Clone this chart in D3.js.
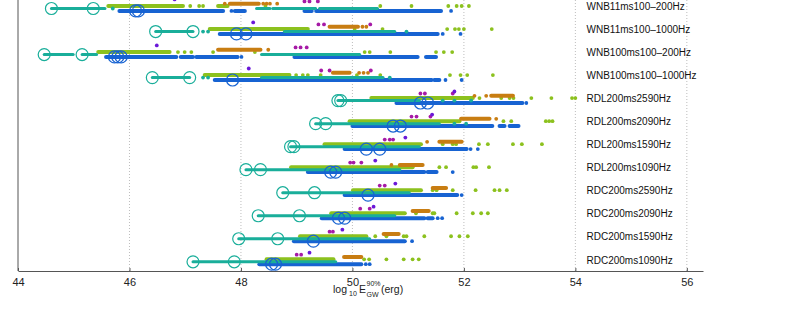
<!DOCTYPE html>
<html lang="en">
<head>
<meta charset="UTF-8">
<title>log10 E_GW 90% per waveform</title>
<script src="https://d3js.org/d3.v7.min.js"></script>
<style>
body {
  margin: 0px;
  overflow: hidden;
  background: #fff;
}
text {
  font-family: "Liberation Sans", Arial, Helvetica, sans-serif;
}
.tick text {
  font-size: 11px;
  fill: #222;
}
.row-label {
  font-size: 10px;
  fill: #111;
}
.grid line {
  stroke: #bdbdbd;
  stroke-dasharray: 1,2;
}
</style>
</head>
<body>
<svg width="785" height="309"></svg>
<script>
// waveform rows, top to bottom
const rowLabels = [
  'WNB11ms100\u2013200Hz', 'WNB11ms100\u20131000Hz', 'WNB100ms100\u2013200Hz', 'WNB100ms100\u20131000Hz',
  'RDL200ms2590Hz', 'RDL200ms2090Hz', 'RDL200ms1590Hz', 'RDL200ms1090Hz',
  'RDC200ms2590Hz', 'RDC200ms2090Hz', 'RDC200ms1590Hz', 'RDC200ms1090Hz'
];
const xTicks = [44, 46, 48, 50, 52, 54, 56];

// circled values (log10 erg)
const tealCircles = [[44.60,45.35],[46.47,47.14],[44.47,45.15],[46.41,47.08],[49.74,49.79],[49.34,49.52],
  [48.89,48.95],[48.09,48.35],[48.75,49.32],[48.31,49.05],[47.96,48.66],[47.14,47.88]];
const blueCircles = [[46.11,46.16],[47.92,48.09],[45.73,45.79,45.85],[47.85],[51.22,51.35],[50.73,50.86],
  [50.25,50.49],[49.61,49.70],[50.28],[49.75,49.86],[49.30],[48.55,48.62]];

// dense runs of points [from, to] and single points, per row
const tealRuns = [
  [[44.60,45.56],[48.28,48.52],[48.57,49.34],[49.41,50.45]],
  [[46.47,47.14],[48.78,50.76]],
  [[44.47,44.99],[45.15,45.41],[48.37,50.13]],
  [[46.41,47.08],[48.37,50.55]],
  [[49.74,51.20]], [[49.34,51.56]], [[48.89,51.20]], [[48.09,50.85]],
  [[48.75,51.02]], [[48.31,50.76]], [[47.96,50.31]], [[47.14,49.70]]
];
const tealDots = [[45.70],[47.32,47.41,50.97],[],[47.32,47.41,50.67],[51.62,51.83,52.13],[51.83,52.04],[],[],[],[],[],[]];

const greenRuns = [
  [[45.62,46.96],[47.59,47.76]], [[47.44,49.20]], [[45.44,46.72]], [[47.35,48.87]],
  [[50.34,52.16]], [[49.95,51.92]], [[49.50,51.23]], [[48.90,51.08]],
  [[50.01,51.23]], [[49.62,50.94]], [[49.06,50.25]], [[48.46,49.66]]
];
const greenDots = [
  [47.09,47.25,47.32,48.44,50.50,51.06,51.72,51.87,51.96,52.09],
  [50.04,50.54,51.70,51.84,51.91,52.00,52.50],
  [46.87,46.99,47.11,47.50,48.25,50.22,50.31,50.68,51.50,51.64,51.79],
  [48.99,49.11,49.20,49.43,50.08,50.50,51.75,51.94,52.06,52.52],
  [52.28,52.67,52.82,52.89,53.21,53.57,53.94,54.00],
  [52.71,52.85,53.47,53.53,53.59],
  [51.62,51.80,51.86,52.27,52.43,52.88,53.04,53.40],
  [51.56,51.68,52.17,52.22,52.45],
  [51.44,51.51,51.80,52.21,52.55,52.64,52.77],
  [51.14,51.44,51.47,51.87,52.16,52.31,52.43],
  [50.41,50.61,50.92,50.97,51.29,51.77,51.92,52.07],
  [50.21,50.30,50.61,50.92,51.08,51.19]
];

const orangeRuns = [
  [[47.80,48.32]], [[49.59,50.10]], [[47.59,48.35]], [[49.65,49.95]],
  [[52.49,52.88]], [[51.95,52.46]], [[51.56,51.96]], [[50.85,51.26]],
  [[51.44,51.68]], [[51.08,51.37]], [[50.56,50.83]], [[49.85,50.16]]
];
const orangeDots = [[47.71,48.40,48.46,48.52,48.65],[50.18,50.25],[48.49],[50.12,50.20,50.28],
  [52.19,52.40],[52.58],[51.34],[50.70],[],[],[],[]];

const magentaDots = [[49.14,49.23,49.38],[49.39,49.49,50.32],[48.98,49.07,49.18],[49.44,49.59,50.33],
  [51.22,51.30,51.80],[51.06,51.15,51.40],[50.58,50.67,50.73],[49.96,50.02,50.16],
  [50.49,50.58],[50.14,50.31],[49.59,49.65],[49.00,49.08]];
const violetDots = [[46.81],[48.22],[46.49],[48.14],[51.83],[51.43],[50.95],[50.41],[50.77],[50.38],[49.82],[49.23]];

const blueRuns = [
  [[45.82,47.68],[47.89,48.07],[49.14,49.27],[49.35,51.59]],
  [[47.62,51.53]],
  [[45.58,46.84],[46.92,47.14],[47.20,47.94],[48.96,51.17],[51.32,51.50]],
  [[47.53,51.42],[51.47,51.56]],
  [[50.79,53.05]],
  [[50.00,52.51],[52.64,52.73],[52.82,52.98]],
  [[49.86,52.05]],
  [[49.20,51.29],[51.35,51.51]],
  [[49.86,51.88]],
  [[49.45,51.29],[51.35,51.44]],
  [[48.95,50.94]],
  [[48.33,50.16]]
];
const blueDots = [[47.83,51.77],[51.62,51.94],[48.01],[51.67,51.96],[53.12],[],[52.12,52.25],[51.80],[51.96],[51.53,51.61],[51.07],[50.24,50.31]];

(function (d3) {
  'use strict';

  const svg = d3.select('svg');
  const axisY = 271;

  const x = d3.scaleLinear().domain([44, 56.29]).range([18, 703]);
  const y = d3.scalePoint().domain(rowLabels).range([6.7, 260]);

  // each series sits a little above / below the row line
  const series = [
    { runs: greenRuns, dots: greenDots, color: '#8cc11e', dy: -0.7, w: 4 },
    { runs: orangeRuns, dots: orangeDots, color: '#c87d12', dy: -3, w: 4 },
    { runs: null, dots: magentaDots, color: '#a61aa6', dy: -5.3, w: 4 },
    { runs: null, dots: violetDots, color: '#6a18d8', dy: -7.3, w: 4 },
    { runs: blueRuns, dots: blueDots, color: '#1763d2', dy: 4.2, w: 4 },
    { runs: tealRuns, dots: tealDots, color: '#19ae9a', dy: 1.8, w: 3 }
  ];

  // dotted grid
  svg.append('g').attr('class', 'grid')
    .selectAll('line').data(xTicks.slice(1)).enter().append('line')
      .attr('x1', d => x(d)).attr('x2', d => x(d))
      .attr('y1', 0).attr('y2', axisY);

  const plot = svg.append('g');

  series.forEach(s => {
    rowLabels.forEach((label, i) => {
      const yy = y(label) + s.dy;
      if (s.runs) {
        plot.selectAll(null).data(s.runs[i]).enter().append('line')
          .attr('x1', d => x(d[0])).attr('x2', d => x(d[1]))
          .attr('y1', yy).attr('y2', yy)
          .attr('stroke', s.color)
          .attr('stroke-width', s.w)
          .attr('stroke-linecap', 'round');
      }
      plot.selectAll(null).data(s.dots[i]).enter().append('circle')
        .attr('cx', d => x(d)).attr('cy', yy)
        .attr('r', 1.9)
        .attr('fill', s.color);
    });
  });

  // open circles
  const rings = [
    { vals: tealCircles, color: '#19ae9a', dy: 1.8 },
    { vals: blueCircles, color: '#1763d2', dy: 4.2 }
  ];
  rings.forEach(r => {
    rowLabels.forEach((label, i) => {
      plot.selectAll(null).data(r.vals[i]).enter().append('circle')
        .attr('cx', d => x(d)).attr('cy', y(label) + r.dy)
        .attr('r', 6)
        .attr('fill', 'none')
        .attr('stroke', r.color)
        .attr('stroke-width', 1.2);
    });
  });

  // row names on the right
  svg.append('g').selectAll('text').data(rowLabels).enter().append('text')
    .attr('class', 'row-label')
    .attr('x', 586.5)
    .attr('y', d => y(d))
    .attr('dy', '0.35em')
    .text(d => d);

  // axes
  const xAxisG = svg.append('g')
    .attr('transform', `translate(0,${axisY})`)
    .call(d3.axisBottom(x).tickValues(xTicks).tickSizeInner(-3).tickSizeOuter(0).tickPadding(7));
  xAxisG.select('.domain').attr('stroke', '#555');
  xAxisG.selectAll('.tick line').attr('stroke', '#555');

  svg.append('line')
    .attr('x1', 18).attr('x2', 18)
    .attr('y1', 0).attr('y2', axisY)
    .attr('stroke', '#555');

  // x label: log10 E^90%_GW (erg)
  const lab = svg.append('g').attr('fill', '#222');
  lab.append('text').attr('x', 333).attr('y', 293).attr('font-size', 10.5).text('log');
  lab.append('text').attr('x', 349).attr('y', 296).attr('font-size', 7).text('10');
  lab.append('text').attr('x', 359).attr('y', 293).attr('font-size', 10.5).text('E');
  lab.append('text').attr('x', 366.5).attr('y', 286).attr('font-size', 7).text('90%');
  lab.append('text').attr('x', 366.5).attr('y', 297).attr('font-size', 7).text('GW');
  lab.append('text').attr('x', 381).attr('y', 293).attr('font-size', 10.5).text('(erg)');

}(d3));
</script>
</body>
</html>
